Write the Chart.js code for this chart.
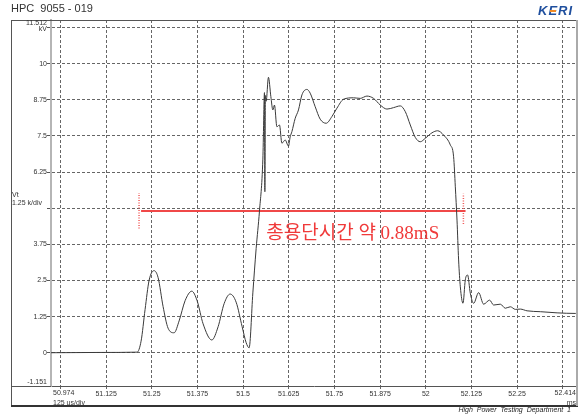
<!DOCTYPE html>
<html>
<head>
<meta charset="utf-8">
<script src="https://cdn.jsdelivr.net/npm/chart.js@4/dist/chart.umd.min.js"></script>
<style>
html, body { margin: 0; padding: 0; background: #fff; }
#wrap { position: relative; width: 582px; height: 418px; font-family: "Liberation Sans", Arial, sans-serif; }
canvas { position: absolute; left: 0; top: 0; }
#title { position: absolute; left: 11px; top: 2px; font-size: 11px; color: #333; white-space: pre; }
#logo { position: absolute; left: 538px; top: 3px; font: italic bold 13px "Liberation Sans", Arial, sans-serif; color: #1f4f9e; letter-spacing: 1px; }
#logoBar { position: absolute; left: 550px; top: 10px; width: 6px; height: 2px; background: #f08a24; }
#footer { position: absolute; right: 11px; top: 406px; font: italic 7px "Liberation Sans", Arial, sans-serif; color: #222; white-space: pre; }
</style>
</head>
<body>
<div id="wrap">
<canvas id="chart" width="582" height="418"></canvas>
<div id="title">HPC  9055 - 019</div>
<div id="logo">KERI</div>
<div id="logoBar"></div>
<div id="footer">High  Power  Testing  Department  1</div>
</div>
<script>
// waveform (ms, kV)
const timeMs = [50.974, 51.108, 51.2096, 51.2206, 51.2316, 51.2425, 51.2562, 51.2672, 51.2808, 51.2945,
    51.311, 51.3247, 51.3411, 51.3595, 51.374, 51.3904, 51.4143, 51.4315, 51.448, 51.4644,
    51.4808, 51.4973, 51.5082, 51.5164, 51.5266, 51.5356, 51.5447, 51.554, 51.5584, 51.5595,
    51.5609, 51.563, 51.5693, 51.5759, 51.5814, 51.5858, 51.5924, 51.5995, 51.6061, 51.6151,
    51.6241, 51.6288, 51.6335, 51.6425, 51.6515, 51.6609, 51.6746, 51.6836, 51.6973, 51.711,
    51.7274, 51.743, 51.7567, 51.7748, 51.8022, 51.8206, 51.8389, 51.857, 51.8754, 51.8937,
    51.9118, 51.9302, 51.944, 51.9576, 51.9713, 51.985, 51.9987, 52.017, 52.0324, 52.0488,
    52.0672, 52.0762, 52.0809, 52.0855, 52.0899, 52.0946, 52.1019, 52.1082, 52.1145, 52.1219,
    52.131, 52.1447, 52.1584, 52.1748, 52.1858, 52.2041, 52.2178, 52.2315, 52.2452, 52.2589,
    52.2773, 52.3137, 52.3595, 52.4096, 52.414];
const voltKV = [0, 0.01, 0.02, 0.4, 1.5, 2.5, 2.84, 2.6, 1.6, 0.85,
    0.69, 1.1, 1.8, 2.13, 1.8, 1.0, 0.44, 0.9, 1.7, 2.03,
    1.75, 0.9, 0.35, 0.17, 2.07, 3.6, 4.9, 6.7, 9.0, 5.57,
    8.9, 8.7, 9.53, 8.86, 8.4, 8.57, 7.82, 7.88, 7.25, 7.36,
    7.15, 7.47, 7.65, 8.11, 8.4, 8.92, 9.11, 8.98, 8.51, 8.08,
    7.94, 8.17, 8.46, 8.77, 8.82, 8.8, 8.88, 8.8, 8.57, 8.43,
    8.48, 8.54, 8.34, 7.88, 7.45, 7.3, 7.42, 7.61, 7.68, 7.53,
    7.19, 6.78, 5.74, 4.59, 3.21, 2.28, 1.71, 2.52, 2.69, 2.06,
    1.71, 2.08, 1.68, 1.82, 1.65, 1.68, 1.54, 1.59, 1.5, 1.51,
    1.45, 1.42, 1.38, 1.36, 1.36];

// axes
const xMin = 50.974, xMax = 52.414;
const yMin = -1.151, yMax = 11.512;
const xTicks = [51, 51.125, 51.25, 51.375, 51.5, 51.625, 51.75, 51.875, 52, 52.125, 52.25, 52.375];
const xTickLabels = ['', '51.125', '51.25', '51.375', '51.5', '51.625', '51.75', '51.875', '52', '52.125', '52.25', ''];
const yTicks = [0, 1.25, 2.5, 3.75, 5, 6.25, 7.5, 8.75, 10, 11.25];
const yTickLabels = ['0', '1.25', '2.5', '3.75', '', '6.25', '7.5', '8.75', '10', ''];

// red marking of the fuse clearing time
const spanTime = [51.2206, 52.1089];
const spanLevel = 4.9;
const leftMarkT = 51.215, rightMarkT = 52.103;
const leftMarkV = [4.3, 5.53], rightMarkV = [4.45, 5.5];
const spanText = '총용단시간 약 0.88mS';
const spanTextAt = [51.80, 4.1];

const trace = timeMs.map((t, i) => ({ x: t, y: voltKV[i] }));

const framePlugin = {
    id: 'frame',
    afterDraw(chart) {
        const ctx = chart.ctx;
        const a = chart.chartArea;
        const xs = chart.scales.x, ys = chart.scales.y;
        const L = 11, B = 406;
        ctx.save();
        // outer frame
        ctx.strokeStyle = '#555';
        ctx.lineWidth = 1;
        ctx.beginPath();
        ctx.moveTo(L + 0.5, a.top + 0.5); ctx.lineTo(a.right, a.top + 0.5);
        ctx.moveTo(L + 0.5, a.top); ctx.lineTo(L + 0.5, B);
        ctx.moveTo(L, a.bottom + 0.5); ctx.lineTo(a.left, a.bottom + 0.5);
        ctx.stroke();
        ctx.strokeStyle = '#333';
        ctx.lineWidth = 2;
        ctx.beginPath();
        ctx.moveTo(L, B); ctx.lineTo(a.right + 1, B);
        ctx.stroke();
        ctx.strokeStyle = '#aaa';
        ctx.beginPath();
        ctx.moveTo(a.right, a.top); ctx.lineTo(a.right, B);
        ctx.stroke();

        // edge labels
        ctx.fillStyle = '#333';
        ctx.font = '7px "Liberation Sans", Arial, sans-serif';
        ctx.textBaseline = 'middle';
        ctx.textAlign = 'right';
        ctx.fillText(String(yMax), a.left - 4, a.top + 3);
        ctx.fillText('kV', a.left - 4, a.top + 9);
        ctx.fillText(String(yMin), a.left - 4, a.bottom - 4);
        ctx.fillText(String(xMax), a.right - 1, a.bottom + 7);
        ctx.fillText('ms', a.right - 1, a.bottom + 17);
        ctx.textAlign = 'left';
        ctx.fillText(String(xMin), a.left + 2, a.bottom + 7);
        ctx.fillText('125 us/div', a.left + 2, a.bottom + 17);
        const y5 = ys.getPixelForValue(5);
        ctx.fillText('Vt', L + 1, y5 - 13);
        ctx.fillText('1.25 k/div', L + 1, y5 - 5);

        // annotation text
        ctx.fillStyle = '#f03a3a';
        ctx.font = '19px "Liberation Serif", "Noto Sans CJK KR", serif';
        ctx.textAlign = 'center';
        ctx.fillText(spanText, xs.getPixelForValue(spanTextAt[0]), ys.getPixelForValue(spanTextAt[1]));
        ctx.restore();
    }
};

new Chart(document.getElementById('chart'), {
    type: 'line',
    data: {
        datasets: [
            {
                data: trace,
                borderColor: '#3a3a3a',
                borderWidth: 1,
                pointRadius: 0,
                cubicInterpolationMode: 'monotone',
            },
            {
                data: spanTime.map(t => ({ x: t, y: spanLevel })),
                borderColor: '#f04848',
                borderWidth: 2,
                pointRadius: 0,
            },
            {
                data: leftMarkV.map(v => ({ x: leftMarkT, y: v })),
                borderColor: '#f05a5a',
                borderWidth: 1.5,
                borderDash: [1, 1.5],
                pointRadius: 0,
            },
            {
                data: rightMarkV.map(v => ({ x: rightMarkT, y: v })),
                borderColor: '#f05a5a',
                borderWidth: 1.5,
                borderDash: [1, 1.5],
                pointRadius: 0,
            },
        ]
    },
    options: {
        responsive: false,
        animation: false,
        devicePixelRatio: 1,
        layout: { padding: { left: 11, right: 5, top: 20, bottom: 0 } },
        scales: {
            x: {
                type: 'linear',
                min: xMin,
                max: xMax,
                afterBuildTicks: (s) => { s.ticks = xTicks.map(v => ({ value: v })); },
                afterFit: (s) => { s.height = 32; },
                grid: { color: '#666', tickLength: 3, tickColor: '#666' },
                border: { color: '#555', width: 1, dash: [3, 2] },
                ticks: {
                    autoSkip: false,
                    maxRotation: 0,
                    padding: 1,
                    color: '#333',
                    font: { size: 7, family: '"Liberation Sans", Arial, sans-serif' },
                    callback: (v, i) => xTickLabels[i],
                }
            },
            y: {
                type: 'linear',
                min: yMin,
                max: yMax,
                afterBuildTicks: (s) => { s.ticks = yTicks.map(v => ({ value: v })); },
                afterFit: (s) => { s.width = 40; },
                grid: { color: '#666', tickLength: 4, tickColor: '#555' },
                border: { color: '#b5b5b5', width: 2, dash: [3, 2] },
                ticks: {
                    autoSkip: false,
                    padding: 0,
                    color: '#333',
                    font: { size: 7, family: '"Liberation Sans", Arial, sans-serif' },
                    callback: (v, i) => yTickLabels[i],
                }
            }
        },
        plugins: {
            legend: { display: false },
            tooltip: { enabled: false },
        }
    },
    plugins: [framePlugin],
});
</script>
</body>
</html>
